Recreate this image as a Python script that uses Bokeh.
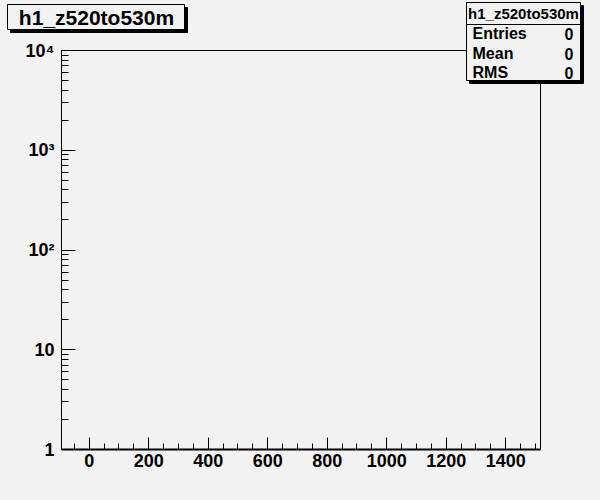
import math
from bokeh.plotting import figure
from bokeh.models import FixedTicker, BoxAnnotation, Label, Range1d
from bokeh.embed import file_html
from bokeh.resources import INLINE

hist_name = "h1_z520to530m"
stat_names = ["Entries", "Mean", "RMS"]
stat_values = ["0", "0", "0"]
bin_edges = []
bin_counts = []
x_major = [0, 200, 400, 600, 800, 1000, 1200, 1400]
x_minor = list(range(-50, 1501, 50))
y_major = [1, 10, 100, 1000, 10000]
y_labels = ["1", "10", "10²", "10³", "10⁴"]
x_lim = (-93, 1517)
y_lim = (1, 10000)

BG = "#f2f2f2"
FONT = "Liberation Sans"
W, H = 584, 484
# pixel box of the histogram frame inside the canvas
FL, FR, FT, FB = 61, 540, 50, 449

ux = (x_lim[1] - x_lim[0]) / (FR - FL)
x_start = x_lim[0] - FL * ux
x_end = x_lim[1] + (W - FR) * ux
dy = (math.log10(y_lim[1]) - math.log10(y_lim[0])) / (FB - FT)
y_end = 10 ** (math.log10(y_lim[1]) + FT * dy)
y_start = 10 ** (math.log10(y_lim[0]) - (H - FB) * dy)

p = figure(width=W, height=H, output_backend="svg", toolbar_location=None,
           y_axis_type="log", x_range=Range1d(x_start, x_end), y_range=Range1d(y_start, y_end),
           min_border_left=0, min_border_right=0, min_border_top=0, min_border_bottom=0)
p.background_fill_color = BG
p.border_fill_color = BG
p.outline_line_color = None
p.xgrid.visible = False
p.ygrid.visible = False

p.scatter(x=bin_edges, y=bin_counts, size=0)

# histogram frame
p.add_layout(BoxAnnotation(left=x_lim[0], right=x_lim[1], bottom=y_lim[0], top=y_lim[1],
                           fill_color=None, line_color="black", line_width=1, line_alpha=1.0))

y_minor = [m * d for d in y_major[:-1] for m in range(2, 10)]
xa = p.xaxis[0]
ya = p.yaxis[0]
xa.ticker = FixedTicker(ticks=x_major, minor_ticks=x_minor)
ya.ticker = FixedTicker(ticks=y_major, minor_ticks=y_minor)
ya.major_label_overrides = {v: s for v, s in zip(y_major, y_labels)}
xa.fixed_location = y_lim[0]
ya.fixed_location = x_lim[0]
xa.bounds = x_lim
ya.bounds = y_lim

for ax in (xa, ya):
    ax.major_tick_out = 0
    ax.minor_tick_out = 0
    ax.major_label_text_font = FONT
    ax.major_label_text_font_style = "bold"
    ax.major_label_text_font_size = "18px"
    ax.major_label_text_color = "black"
    ax.axis_line_color = "black"
    ax.major_tick_line_color = "black"
    ax.minor_tick_line_color = "black"

xa.major_tick_in = 12
xa.minor_tick_in = 6
xa.axis_line_width = 2
xa.major_label_standoff = 4
ya.major_tick_in = 14
ya.minor_tick_in = 7
ya.major_label_standoff = 7


def box(l, r, t, b, fill):
    return BoxAnnotation(left=l, right=r, top=t, bottom=b,
                         left_units="canvas", right_units="canvas",
                         top_units="canvas", bottom_units="canvas",
                         fill_color=fill, fill_alpha=1.0,
                         line_color="black", line_width=1, line_alpha=1.0)


def label(x, y, text, size, align):
    return Label(x=x, y=y, x_units="canvas", y_units="canvas", text=text,
                 text_font=FONT, text_font_style="bold", text_font_size=size,
                 text_align=align, text_baseline="middle", text_color="black")


# title pave
p.add_layout(box(10, 187, 7, 32, "black"))
p.add_layout(box(7, 184, 4, 29, BG))
p.add_layout(label(96, 17, hist_name, "21px", "center"))

# stats pave
p.add_layout(box(469, 583, 5, 83, "black"))
p.add_layout(box(466, 580, 2, 80, BG))
p.add_layout(box(466, 580, 2, 24, BG))
p.add_layout(label(523, 13, hist_name, "15px", "center"))
rows_y = [33, 53, 72]
for name, val, yy in zip(stat_names, stat_values, rows_y):
    p.add_layout(label(472, yy, name, "16px", "left"))
    p.add_layout(label(573, yy, val, "16px", "right"))

html = file_html(p, INLINE)
html = html.replace("<head>", "<head><style>body{background:#f2f2f2}</style>", 1)
open("out.html", "w").write(html)
